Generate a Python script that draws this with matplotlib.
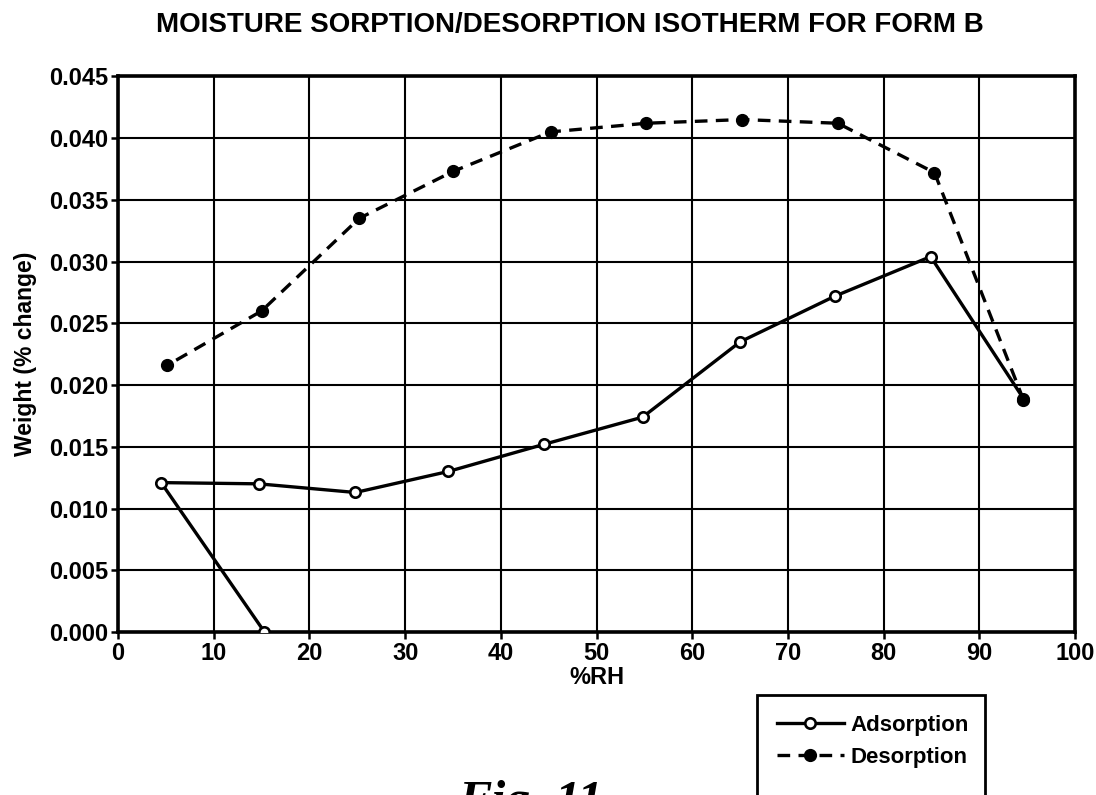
import matplotlib
matplotlib.use("Agg")
import matplotlib.pyplot as plt
from matplotlib.patches import Rectangle

# values
ads_rh = [15.3, 4.5, 14.7, 24.8, 34.5, 44.5, 54.8, 65.0, 74.9, 84.9, 94.6]
ads_w = [0.0, 0.0121, 0.0120, 0.0113, 0.0130, 0.0152, 0.0174, 0.0235, 0.0272, 0.0304, 0.0189]

des_rh = [94.6, 85.3, 75.2, 65.2, 55.2, 45.2, 35.0, 25.2, 15.0, 5.15]
des_w = [0.0188, 0.0372, 0.0412, 0.0415, 0.0412, 0.0405, 0.0373, 0.0335, 0.0260, 0.0216]

x_ticks = list(range(0, 101, 10))
y_ticks = [0.000, 0.005, 0.010, 0.015, 0.020, 0.025, 0.030, 0.035, 0.040, 0.045]

plt.rcParams['font.family'] = ['Liberation Sans', 'DejaVu Sans']
plt.rcParams['font.weight'] = 'bold'
plt.rcParams['axes.labelweight'] = 'bold'

fig = plt.figure(figsize=(10.96, 7.95), dpi=100)
ax = fig.add_axes([0.1077, 0.205, 0.8733, 0.699])

ax.plot(ads_rh, ads_w, color='black', lw=2.4, marker='o', ms=7.5,
        mfc='white', mec='black', mew=1.9, label='Adsorption', zorder=3)
ax.plot(des_rh, des_w, color='black', lw=2.4, ls=(0, (3.8, 2.5)), marker='o', ms=8.5,
        mfc='black', mec='black', label='Desorption', zorder=3)

ax.set_xlim(0, 100)
ax.set_ylim(0, 0.045)
ax.set_xticks(x_ticks)
ax.set_yticks(y_ticks)
ax.set_yticklabels([f"{v:.3f}" for v in y_ticks])
ax.grid(True, color='black', lw=1.5)
for s in ax.spines.values():
    s.set_linewidth(2.6)
ax.tick_params(direction='out', length=5, width=1.8, labelsize=17, pad=2)

fig.text(570 / 1096, 1 - 25 / 795, "MOISTURE SORPTION/DESORPTION ISOTHERM FOR FORM B",
         fontsize=20, ha='center', va='center')
ax.set_xlabel("%RH", fontsize=17, labelpad=1)
ax.set_ylabel("Weight (% change)", fontsize=16.5)
ax.yaxis.set_label_coords(-0.085, 0.5)

# legend box runs off the bottom edge like the scan
fig.add_artist(Rectangle((757 / 1096, -0.05), (985 - 757) / 1096, 0.05 + 100 / 795,
                         transform=fig.transFigure, fill=False, lw=2, ec='black',
                         clip_on=False))
fig.legend(loc='upper left', bbox_to_anchor=(768 / 1096, 1 - 706 / 795), frameon=False,
           fontsize=16, handlelength=3.0, handletextpad=0.3, labelspacing=0.5,
           borderaxespad=0)

fig.text(458 / 1096, 1 - 815 / 795, "Fig. 11", family='Liberation Serif', style='italic',
         fontsize=36, ha='left', va='baseline')

fig.savefig("out.png", dpi=100)
